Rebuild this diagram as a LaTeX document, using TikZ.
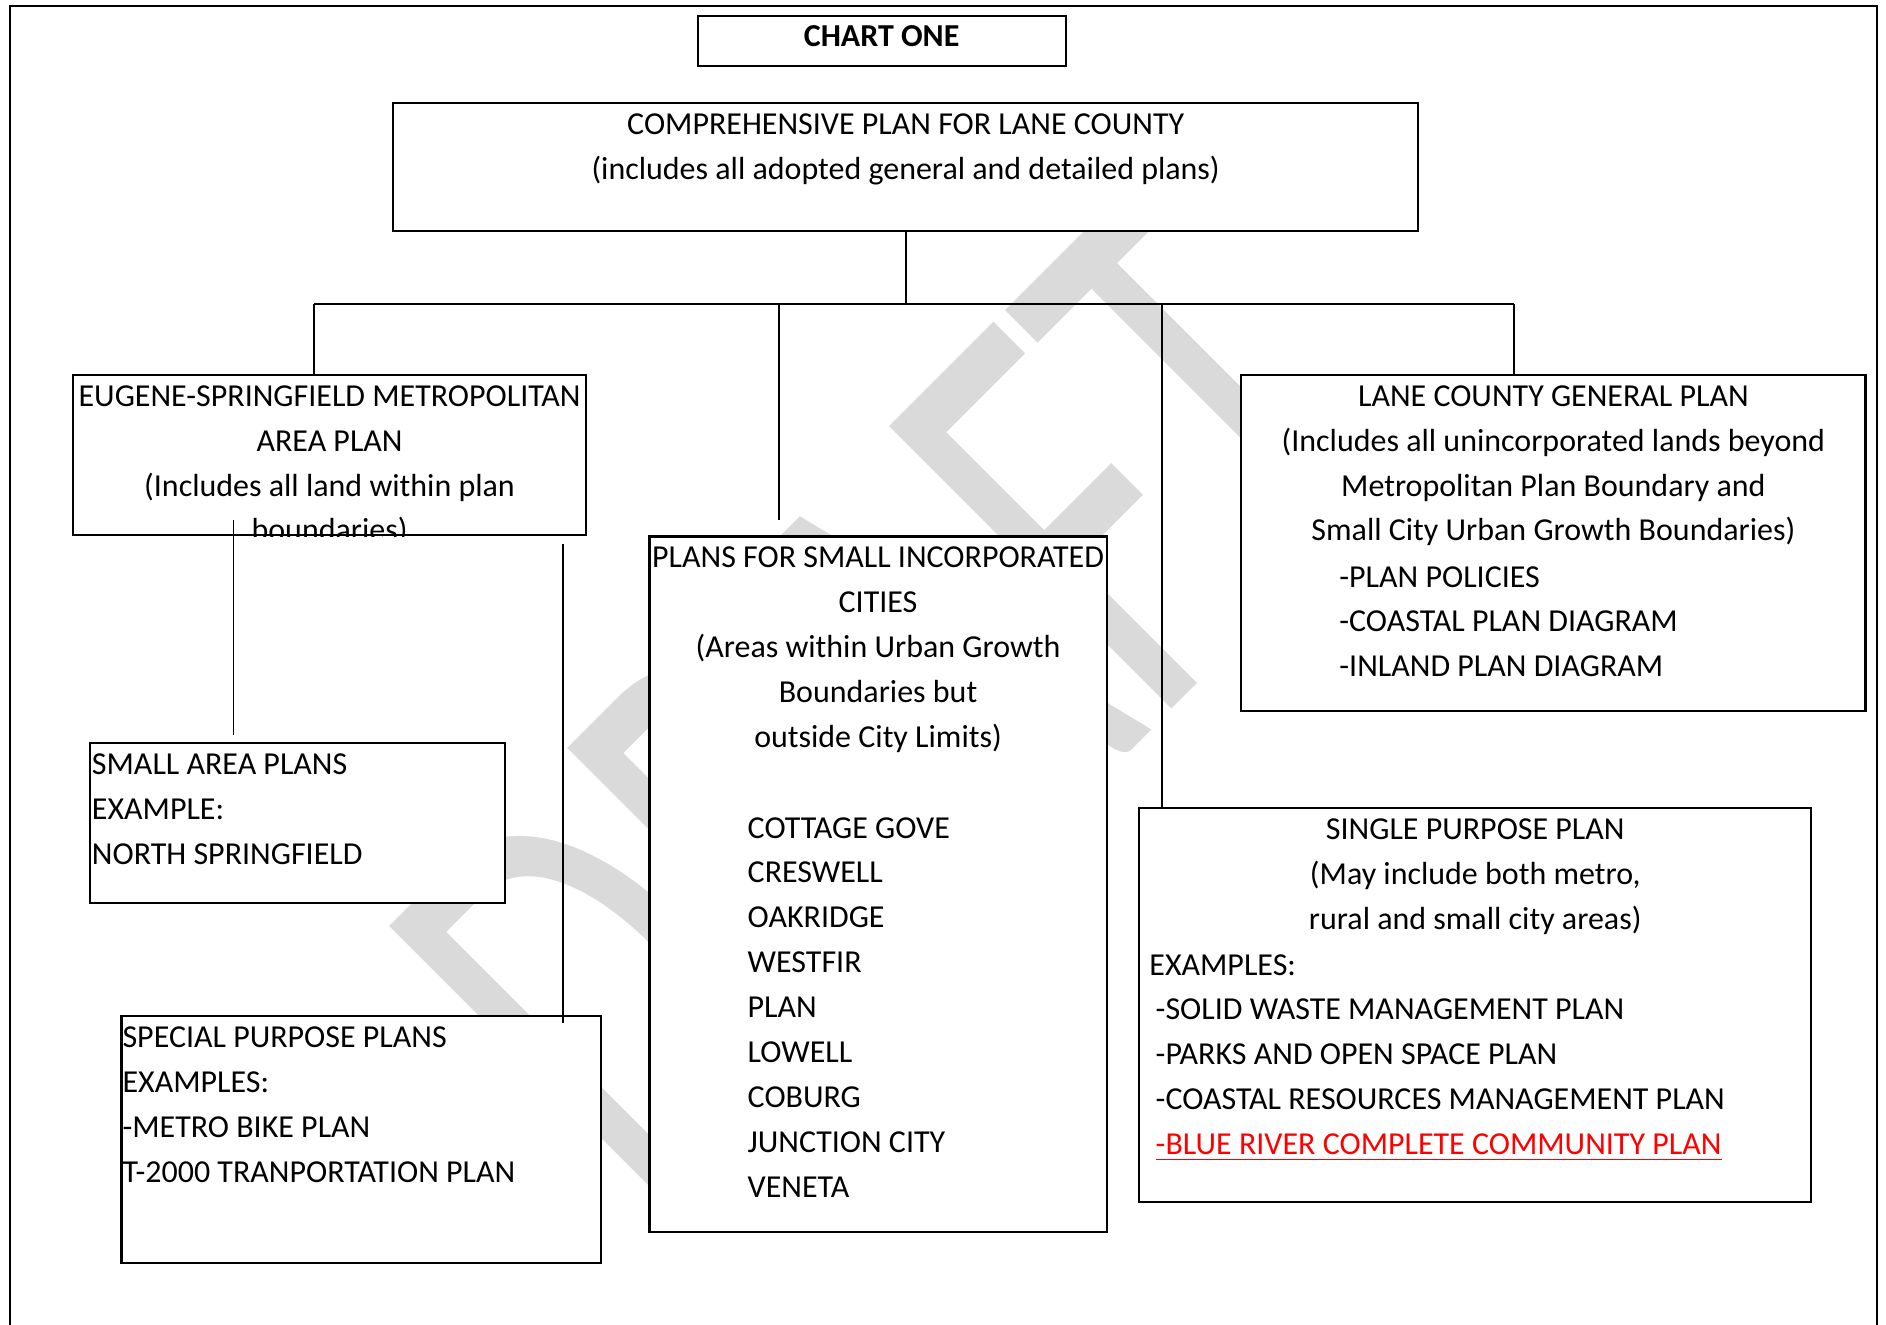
\documentclass[tikz,border=0pt]{standalone}
\usepackage{fontspec}
\setmainfont{Carlito}
\usetikzlibrary{fit}
\definecolor{planred}{RGB}{255,0,0}
\definecolor{wmgray}{RGB}{218,218,218}
\newcommand{\plantext}{\fontsize{9.1pt}{12.77pt}\selectfont}
\tikzset{
  box/.style={draw, fill=white, line width=0.6pt, inner sep=0pt},
  txt/.style={font=\plantext, inner sep=0pt, anchor=north, align=center},
  tab/.style={font=\plantext, inner sep=0pt, anchor=north west, align=left},
  link/.style={line width=0.55pt},
}

\begin{document}
\begin{tikzpicture}[x=0.1mm, y=-0.1mm]
\useasboundingbox (0,0) rectangle (1886,1325);
\node [rotate=45, yscale=1.53, anchor=north west, inner sep=0pt, text=wmgray, font=\fontsize{115.8pt}{115.8pt}\selectfont] (draft) at (369,946) {DRAFT};
\draw [link] (9.6,1330) -- (9.6,6) -- (1877,6) -- (1877,1330);

\node [box, fit={(697.6,15.6) (1065.7,66.2)}] (chart) {};
\node [box, fit={(393.3,103.4) (1418.1,230.9)}] (comp) {};
\node [box, fit={(73.4,375.3) (585.8,535.2)}] (metro) {};
\node [box, fit={(1241.3,375.3) (1865.5,710.9)}] (lane) {};
\node [box, fit={(649.5,536.5) (1106.6,1231.7)}] (cities) {};
\node [box, fit={(90.2,743.3) (505.2,903.3)}] (small) {};
\node [box, fit={(121.5,1016.4) (601.4,1262.9)}] (special) {};
\node [box, fit={(1139.1,808.3) (1811.4,1201.6)}] (single) {};

\coordinate (busL) at (314,304.3);
\coordinate (busR) at (1513.8,304.3);
\coordinate (citydrop) at (778.6,519.6);
\coordinate (singledrop) at (1161.7,304.3);
\coordinate (smalltop) at (233.5,519.6);
\coordinate (smallend) at (233.5,735);
\coordinate (specialtop) at (563.4,544.3);
\coordinate (specialend) at (563.4,1022.7);

\draw [link] (comp.south) -- (comp.south |- busL);
\draw [link] (busL) -- (busR);
\draw [link] (busL) -- (busL |- metro.north);
\draw [link] (busR) -- (busR |- lane.north);
\draw [link] (citydrop |- busL) -- (citydrop);
\draw [link] (singledrop) -- (singledrop |- single.north);
\draw [link] (smalltop) -- (smallend);
\draw [link] (specialtop) -- (specialend);

\node [txt, font=\plantext\bfseries] (charttext) at (chart.north) {\strut CHART ONE};
\node [txt] (comptext) at (comp.north) {\strut COMPREHENSIVE PLAN FOR LANE COUNTY\\(includes all adopted general and detailed plans)};
\begin{scope}
  \clip (metro.south west) rectangle (metro.north east);
  \node [txt] (metrotext) at (metro.north) {\strut EUGENE-SPRINGFIELD METROPOLITAN\\AREA PLAN\\(Includes all land within plan\\boundaries)};
\end{scope}
\node [txt] (lanetext) at (lane.north) {\strut LANE COUNTY GENERAL PLAN\\(Includes all unincorporated lands beyond\\Metropolitan Plan Boundary and\\Small City Urban Growth Boundaries)};
\node [tab] (lanelist) at (1338.7,554.9) {\strut -PLAN POLICIES\\-COASTAL PLAN DIAGRAM\\-INLAND PLAN DIAGRAM};
\node [txt] (citytext) at (cities.north) {\strut PLANS FOR SMALL INCORPORATED\\CITIES\\(Areas within Urban Growth\\Boundaries but\\outside City Limits)};
\node [tab] (citylist) at (747,805.9) {\strut COTTAGE GOVE\\CRESWELL\\OAKRIDGE\\WESTFIR\\PLAN\\LOWELL\\COBURG\\JUNCTION CITY\\VENETA};
\node [tab] (smalltext) at ([xshift=0.6pt]small.north west) {\strut SMALL AREA PLANS\\EXAMPLE:\\NORTH SPRINGFIELD};
\node [tab] (specialtext) at ([xshift=0.4pt]special.north west) {\strut SPECIAL PURPOSE PLANS\\EXAMPLES:\\-METRO BIKE PLAN\\T-2000 TRANPORTATION PLAN};
\node [txt] (singletext) at (single.north) {\strut SINGLE PURPOSE PLAN\\(May include both metro,\\rural and small city areas)};
\node [tab] (singlelist) at (1148.7,943) {\strut EXAMPLES:\\\hspace*{1.8pt}-SOLID WASTE MANAGEMENT PLAN\\\hspace*{1.8pt}-PARKS AND OPEN SPACE PLAN\\\hspace*{1.8pt}-COASTAL RESOURCES MANAGEMENT PLAN\\\hspace*{1.8pt}{\color{planred}\underline{-BLUE RIVER COMPLETE COMMUNITY PLAN}}};
\end{tikzpicture}
\end{document}
